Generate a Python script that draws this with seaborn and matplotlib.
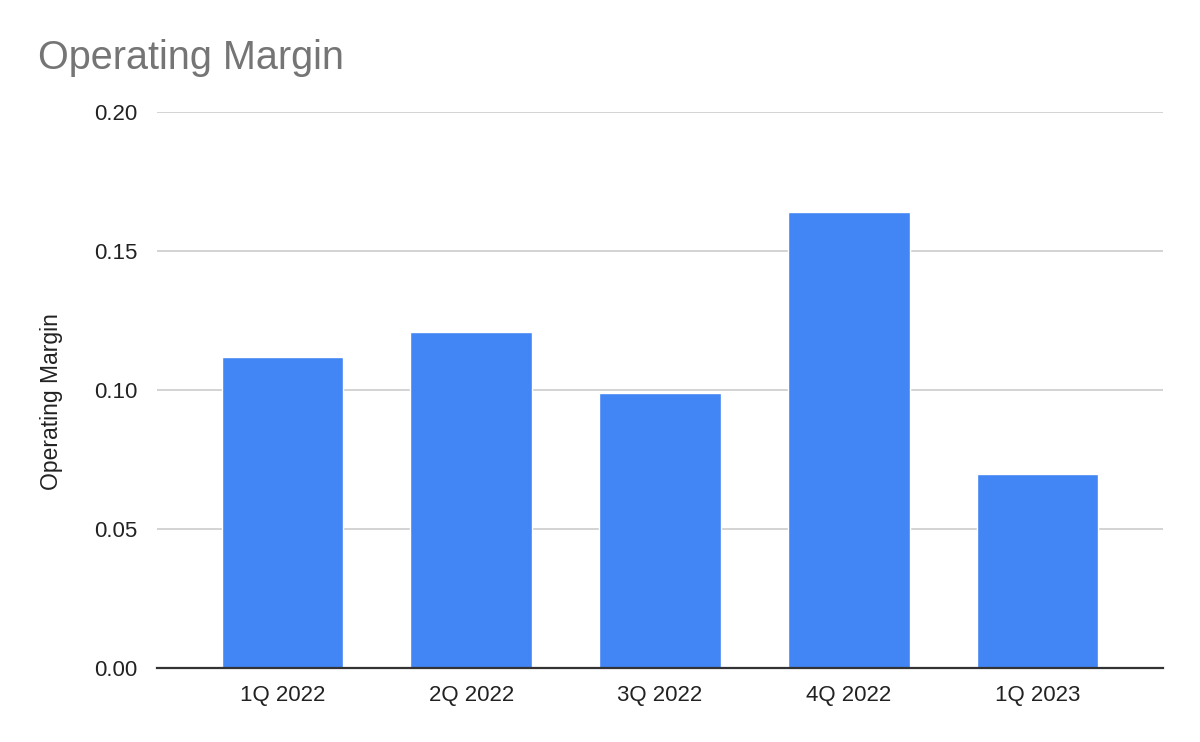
import matplotlib
matplotlib.use("Agg")
import matplotlib.pyplot as plt
import seaborn as sns
import pandas as pd

quarters = ["1Q 2022", "2Q 2022", "3Q 2022", "4Q 2022", "1Q 2023"]
margins = [0.1120, 0.1207, 0.0989, 0.1641, 0.0699]
y_ticks = [0.00, 0.05, 0.10, 0.15, 0.20]

sns.set_style("white")
plt.rcParams["font.family"] = ["Liberation Sans", "DejaVu Sans"]

data = pd.DataFrame({"quarter": quarters, "margin": margins})

fig = plt.figure(figsize=(12, 7.42), dpi=100)
ax = fig.add_axes([0.1308, 0.0997, 0.8384, 0.7493])

sns.barplot(x="quarter", y="margin", data=data, color="#4285F4",
            saturation=1, width=0.645, ax=ax)

ax.set_xlim(-0.666, 4.666)
ax.set_ylim(0, 0.20)
ax.set_yticks(y_ticks)
ax.set_yticklabels([f"{t:.2f}" for t in y_ticks])
ax.yaxis.grid(True, color="#cccccc", linewidth=1.2)
ax.set_axisbelow(True)

for side in ["top", "right", "left"]:
    ax.spines[side].set_visible(False)
ax.spines["bottom"].set_color("#333333")
ax.spines["bottom"].set_linewidth(1.6)

ax.tick_params(axis="y", length=0, pad=14, labelsize=16, colors="#222222")
ax.tick_params(axis="x", length=0, pad=12, labelsize=16, colors="#222222")
ax.set_xlabel("")
ax.set_ylabel("Operating Margin", fontsize=16.5, color="#222222")
ax.yaxis.set_label_coords(-0.0934, 0.48)

fig.text(0.032, 0.907, "Operating Margin", fontsize=28.5, color="#757575",
         ha="left", va="baseline")

fig.savefig("out.png", dpi=100)
plt.close(fig)
